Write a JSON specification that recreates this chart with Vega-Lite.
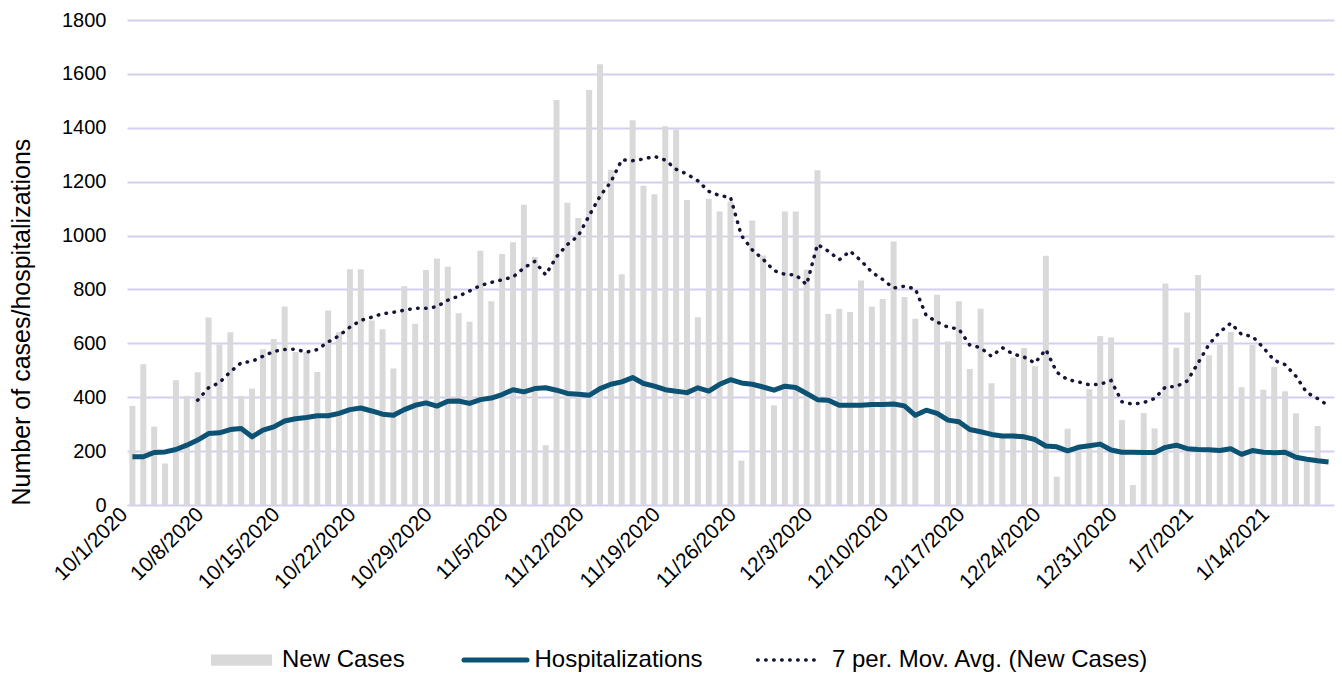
{
  "$schema": "https://vega.github.io/schema/vega-lite/v6.json",
  "width": 1207,
  "height": 485,
  "padding": {"left": 9, "top": 10, "right": 0, "bottom": 0},
  "config": {
    "font": "Liberation Sans",
    "view": {"stroke": null},
    "axis": {"labelFont": "Liberation Sans", "titleFont": "Liberation Sans", "labelColor": "#000000", "titleColor": "#000000"}
  },
  "data": {"values": [
    {"date": "10/1/2020", "cases": 368, "hosp": 179, "ma": null},
    {"date": "10/2/2020", "cases": 522, "hosp": 179, "ma": null},
    {"date": "10/3/2020", "cases": 291, "hosp": 195, "ma": null},
    {"date": "10/4/2020", "cases": 154, "hosp": 197, "ma": null},
    {"date": "10/5/2020", "cases": 463, "hosp": 206, "ma": null},
    {"date": "10/6/2020", "cases": 405, "hosp": 222, "ma": null},
    {"date": "10/7/2020", "cases": 493, "hosp": 241, "ma": 389},
    {"date": "10/8/2020", "cases": 696, "hosp": 265, "ma": 435},
    {"date": "10/9/2020", "cases": 596, "hosp": 268, "ma": 454},
    {"date": "10/10/2020", "cases": 641, "hosp": 280, "ma": 494},
    {"date": "10/11/2020", "cases": 405, "hosp": 284, "ma": 528},
    {"date": "10/12/2020", "cases": 432, "hosp": 253, "ma": 533},
    {"date": "10/13/2020", "cases": 578, "hosp": 278, "ma": 552},
    {"date": "10/14/2020", "cases": 616, "hosp": 290, "ma": 570},
    {"date": "10/15/2020", "cases": 737, "hosp": 312, "ma": 577},
    {"date": "10/16/2020", "cases": 568, "hosp": 320, "ma": 578},
    {"date": "10/17/2020", "cases": 568, "hosp": 325, "ma": 567},
    {"date": "10/18/2020", "cases": 494, "hosp": 331, "ma": 577},
    {"date": "10/19/2020", "cases": 722, "hosp": 331, "ma": 605},
    {"date": "10/20/2020", "cases": 642, "hosp": 340, "ma": 628},
    {"date": "10/21/2020", "cases": 875, "hosp": 354, "ma": 660},
    {"date": "10/22/2020", "cases": 875, "hosp": 360, "ma": 685},
    {"date": "10/23/2020", "cases": 685, "hosp": 349, "ma": 697},
    {"date": "10/24/2020", "cases": 652, "hosp": 337, "ma": 710},
    {"date": "10/25/2020", "cases": 507, "hosp": 333, "ma": 715},
    {"date": "10/26/2020", "cases": 812, "hosp": 354, "ma": 723},
    {"date": "10/27/2020", "cases": 673, "hosp": 370, "ma": 730},
    {"date": "10/28/2020", "cases": 872, "hosp": 379, "ma": 730},
    {"date": "10/29/2020", "cases": 915, "hosp": 367, "ma": 736},
    {"date": "10/30/2020", "cases": 884, "hosp": 385, "ma": 760},
    {"date": "10/31/2020", "cases": 712, "hosp": 386, "ma": 775},
    {"date": "11/1/2020", "cases": 680, "hosp": 377, "ma": 794},
    {"date": "11/2/2020", "cases": 944, "hosp": 391, "ma": 815},
    {"date": "11/3/2020", "cases": 756, "hosp": 397, "ma": 826},
    {"date": "11/4/2020", "cases": 932, "hosp": 410, "ma": 836},
    {"date": "11/5/2020", "cases": 975, "hosp": 428, "ma": 846},
    {"date": "11/6/2020", "cases": 1114, "hosp": 420, "ma": 880},
    {"date": "11/7/2020", "cases": 920, "hosp": 432, "ma": 904},
    {"date": "11/8/2020", "cases": 222, "hosp": 435, "ma": 854},
    {"date": "11/9/2020", "cases": 1503, "hosp": 426, "ma": 921},
    {"date": "11/10/2020", "cases": 1122, "hosp": 414, "ma": 967},
    {"date": "11/11/2020", "cases": 1065, "hosp": 411, "ma": 999},
    {"date": "11/12/2020", "cases": 1540, "hosp": 407, "ma": 1074},
    {"date": "11/13/2020", "cases": 1636, "hosp": 432, "ma": 1146},
    {"date": "11/14/2020", "cases": 1244, "hosp": 448, "ma": 1199},
    {"date": "11/15/2020", "cases": 856, "hosp": 457, "ma": 1281},
    {"date": "11/16/2020", "cases": 1428, "hosp": 473, "ma": 1278},
    {"date": "11/17/2020", "cases": 1185, "hosp": 451, "ma": 1284},
    {"date": "11/18/2020", "cases": 1153, "hosp": 441, "ma": 1294},
    {"date": "11/19/2020", "cases": 1406, "hosp": 428, "ma": 1280},
    {"date": "11/20/2020", "cases": 1394, "hosp": 422, "ma": 1246},
    {"date": "11/21/2020", "cases": 1132, "hosp": 417, "ma": 1228},
    {"date": "11/22/2020", "cases": 697, "hosp": 435, "ma": 1203},
    {"date": "11/23/2020", "cases": 1137, "hosp": 423, "ma": 1164},
    {"date": "11/24/2020", "cases": 1089, "hosp": 448, "ma": 1148},
    {"date": "11/25/2020", "cases": 1126, "hosp": 465, "ma": 1142},
    {"date": "11/26/2020", "cases": 165, "hosp": 453, "ma": 1000},
    {"date": "11/27/2020", "cases": 1056, "hosp": 448, "ma": 947},
    {"date": "11/28/2020", "cases": 926, "hosp": 438, "ma": 912},
    {"date": "11/29/2020", "cases": 370, "hosp": 426, "ma": 870},
    {"date": "11/30/2020", "cases": 1089, "hosp": 441, "ma": 856},
    {"date": "12/1/2020", "cases": 1089, "hosp": 436, "ma": 854},
    {"date": "12/2/2020", "cases": 874, "hosp": 414, "ma": 818},
    {"date": "12/3/2020", "cases": 1242, "hosp": 391, "ma": 967},
    {"date": "12/4/2020", "cases": 709, "hosp": 389, "ma": 942},
    {"date": "12/5/2020", "cases": 728, "hosp": 370, "ma": 910},
    {"date": "12/6/2020", "cases": 716, "hosp": 370, "ma": 942},
    {"date": "12/7/2020", "cases": 833, "hosp": 370, "ma": 907},
    {"date": "12/8/2020", "cases": 737, "hosp": 373, "ma": 864},
    {"date": "12/9/2020", "cases": 765, "hosp": 373, "ma": 837},
    {"date": "12/10/2020", "cases": 978, "hosp": 375, "ma": 805},
    {"date": "12/11/2020", "cases": 772, "hosp": 368, "ma": 812},
    {"date": "12/12/2020", "cases": 691, "hosp": 333, "ma": 802},
    {"date": "12/13/2020", "cases": null, "hosp": 352, "ma": 703},
    {"date": "12/14/2020", "cases": 780, "hosp": 340, "ma": 679},
    {"date": "12/15/2020", "cases": 607, "hosp": 315, "ma": 660},
    {"date": "12/16/2020", "cases": 756, "hosp": 309, "ma": 653},
    {"date": "12/17/2020", "cases": 505, "hosp": 280, "ma": 594},
    {"date": "12/18/2020", "cases": 728, "hosp": 272, "ma": 584},
    {"date": "12/19/2020", "cases": 452, "hosp": 262, "ma": 552},
    {"date": "12/20/2020", "cases": 255, "hosp": 256, "ma": 584},
    {"date": "12/21/2020", "cases": 547, "hosp": 256, "ma": 560},
    {"date": "12/22/2020", "cases": 583, "hosp": 253, "ma": 549},
    {"date": "12/23/2020", "cases": 515, "hosp": 243, "ma": 527},
    {"date": "12/24/2020", "cases": 925, "hosp": 219, "ma": 577},
    {"date": "12/25/2020", "cases": 105, "hosp": 216, "ma": 493},
    {"date": "12/26/2020", "cases": 283, "hosp": 201, "ma": 465},
    {"date": "12/27/2020", "cases": 225, "hosp": 214, "ma": 457},
    {"date": "12/28/2020", "cases": 430, "hosp": 220, "ma": 446},
    {"date": "12/29/2020", "cases": 627, "hosp": 226, "ma": 448},
    {"date": "12/30/2020", "cases": 622, "hosp": 204, "ma": 462},
    {"date": "12/31/2020", "cases": 315, "hosp": 196, "ma": 383},
    {"date": "1/1/2021", "cases": 74, "hosp": 196, "ma": 374},
    {"date": "1/2/2021", "cases": 341, "hosp": 195, "ma": 380},
    {"date": "1/3/2021", "cases": 284, "hosp": 195, "ma": 395},
    {"date": "1/4/2021", "cases": 822, "hosp": 214, "ma": 438},
    {"date": "1/5/2021", "cases": 584, "hosp": 222, "ma": 440},
    {"date": "1/6/2021", "cases": 714, "hosp": 209, "ma": 460},
    {"date": "1/7/2021", "cases": 854, "hosp": 206, "ma": 527},
    {"date": "1/8/2021", "cases": 556, "hosp": 205, "ma": 596},
    {"date": "1/9/2021", "cases": 596, "hosp": 202, "ma": 642},
    {"date": "1/10/2021", "cases": 642, "hosp": 209, "ma": 675},
    {"date": "1/11/2021", "cases": 437, "hosp": 188, "ma": 633},
    {"date": "1/12/2021", "cases": 594, "hosp": 202, "ma": 626},
    {"date": "1/13/2021", "cases": 428, "hosp": 196, "ma": 584},
    {"date": "1/14/2021", "cases": 512, "hosp": 194, "ma": 537},
    {"date": "1/15/2021", "cases": 422, "hosp": 196, "ma": 521},
    {"date": "1/16/2021", "cases": 340, "hosp": 177, "ma": 478},
    {"date": "1/17/2021", "cases": 160, "hosp": 170, "ma": 417},
    {"date": "1/18/2021", "cases": 293, "hosp": 164, "ma": 395},
    {"date": "1/19/2021", "cases": null, "hosp": 160, "ma": 368}
  ]},
  "encoding": {
    "x": {
      "field": "date", "type": "ordinal", "sort": null,
      "scale": {
        "paddingInner": 0.45, "paddingOuter": 0.225,
        "domain": ["10/1/2020","10/2/2020","10/3/2020","10/4/2020","10/5/2020","10/6/2020","10/7/2020","10/8/2020","10/9/2020","10/10/2020","10/11/2020","10/12/2020","10/13/2020","10/14/2020","10/15/2020","10/16/2020","10/17/2020","10/18/2020","10/19/2020","10/20/2020","10/21/2020","10/22/2020","10/23/2020","10/24/2020","10/25/2020","10/26/2020","10/27/2020","10/28/2020","10/29/2020","10/30/2020","10/31/2020","11/1/2020","11/2/2020","11/3/2020","11/4/2020","11/5/2020","11/6/2020","11/7/2020","11/8/2020","11/9/2020","11/10/2020","11/11/2020","11/12/2020","11/13/2020","11/14/2020","11/15/2020","11/16/2020","11/17/2020","11/18/2020","11/19/2020","11/20/2020","11/21/2020","11/22/2020","11/23/2020","11/24/2020","11/25/2020","11/26/2020","11/27/2020","11/28/2020","11/29/2020","11/30/2020","12/1/2020","12/2/2020","12/3/2020","12/4/2020","12/5/2020","12/6/2020","12/7/2020","12/8/2020","12/9/2020","12/10/2020","12/11/2020","12/12/2020","12/13/2020","12/14/2020","12/15/2020","12/16/2020","12/17/2020","12/18/2020","12/19/2020","12/20/2020","12/21/2020","12/22/2020","12/23/2020","12/24/2020","12/25/2020","12/26/2020","12/27/2020","12/28/2020","12/29/2020","12/30/2020","12/31/2020","1/1/2021","1/2/2021","1/3/2021","1/4/2021","1/5/2021","1/6/2021","1/7/2021","1/8/2021","1/9/2021","1/10/2021","1/11/2021","1/12/2021","1/13/2021","1/14/2021","1/15/2021","1/16/2021","1/17/2021","1/18/2021","1/19/2021"]
      },
      "axis": {
        "title": null, "values": ["10/1/2020","10/8/2020","10/15/2020","10/22/2020","10/29/2020","11/5/2020","11/12/2020","11/19/2020","11/26/2020","12/3/2020","12/10/2020","12/17/2020","12/24/2020","12/31/2020","1/7/2021","1/14/2021"],
        "labelAngle": -45, "labelAlign": "right", "labelBaseline": "middle",
        "labelFontSize": 21, "labelPadding": 6, "labelOffset": -8, "ticks": false, "tickSize": 0,
        "domain": false, "grid": false, "labelOverlap": false
      }
    }
  },
  "layer": [
    {
      "mark": {"type": "bar", "color": "#d9d9d9"},
      "encoding": {
        "y": {
          "field": "cases", "type": "quantitative",
          "scale": {"domain": [0, 1800], "nice": false},
          "axis": {
            "title": "Number of cases/hospitalizations", "titleFontSize": 25, "titleFontWeight": "normal", "titlePadding": 27, "titleAnchor": "start",
            "values": [0,200,400,600,800,1000,1200,1400,1600,1800], "format": "d",
            "labelFontSize": 20, "labelPadding": 21, "ticks": false, "tickSize": 0, "domain": false,
            "grid": true, "gridColor": "#d3cff0", "gridWidth": 2
          }
        },
        "color": {
          "datum": "New Cases", "type": "nominal",
          "scale": {"domain": ["New Cases", "Hospitalizations", "7 per. Mov. Avg. (New Cases)"], "range": ["#d9d9d9", "#0b5274", "#15153a"]},
          "legend": {
            "title": null, "orient": "none", "legendX": 65.5, "legendY": 628, "direction": "horizontal",
            "columnPadding": 39.5, "labelOffset": 28.5, "symbolOffset": 37, "labelFontSize": 24, "labelFont": "Liberation Sans", "labelColor": "#000000",
            "labelLimit": 0, "padding": 0,
            "encoding": {
              "symbols": {
                "shape": {"value": {"expr": "datum.value === 'New Cases' ? 'M-0.813,-0.15H0.813V0.15H-0.813Z' : datum.value === 'Hospitalizations' ? 'M-0.857,0H0.943' : 'M-0.94,0H0.83'"}},
                "size": {"value": {"expr": "datum.value === 'New Cases' ? 5625 : datum.value === 'Hospitalizations' ? 4900 : 5184"}},
                "strokeWidth": {"value": {"expr": "datum.value === 'New Cases' ? 0 : datum.value === 'Hospitalizations' ? 5 : 3.5"}},
                "fill": {"value": {"expr": "datum.value === 'New Cases' ? '#d9d9d9' : 'transparent'"}},
                "stroke": {"value": {"expr": "datum.value === 'New Cases' ? 'transparent' : datum.value === 'Hospitalizations' ? '#0b5274' : '#15153a'"}},
                "strokeDash": {"value": {"expr": "datum.value === '7 per. Mov. Avg. (New Cases)' ? [0.5, 7.5] : [1, 0]"}},
                "strokeCap": {"value": "round"},
                "opacity": {"value": 1}
              }
            }
          }
        }
      }
    },
    {
      "mark": {"type": "line", "strokeWidth": 5, "strokeJoin": "round"},
      "encoding": {
        "y": {"field": "hosp", "type": "quantitative", "axis": {"title": "Number of cases/hospitalizations"}},
        "color": {"datum": "Hospitalizations", "type": "nominal"}
      }
    },
    {
      "mark": {"type": "line", "strokeWidth": 3.5, "strokeDash": [0.5, 7.5], "strokeCap": "round"},
      "encoding": {
        "y": {"field": "ma", "type": "quantitative", "axis": {"title": "Number of cases/hospitalizations"}},
        "color": {"datum": "7 per. Mov. Avg. (New Cases)", "type": "nominal"}
      }
    }
  ]
}
